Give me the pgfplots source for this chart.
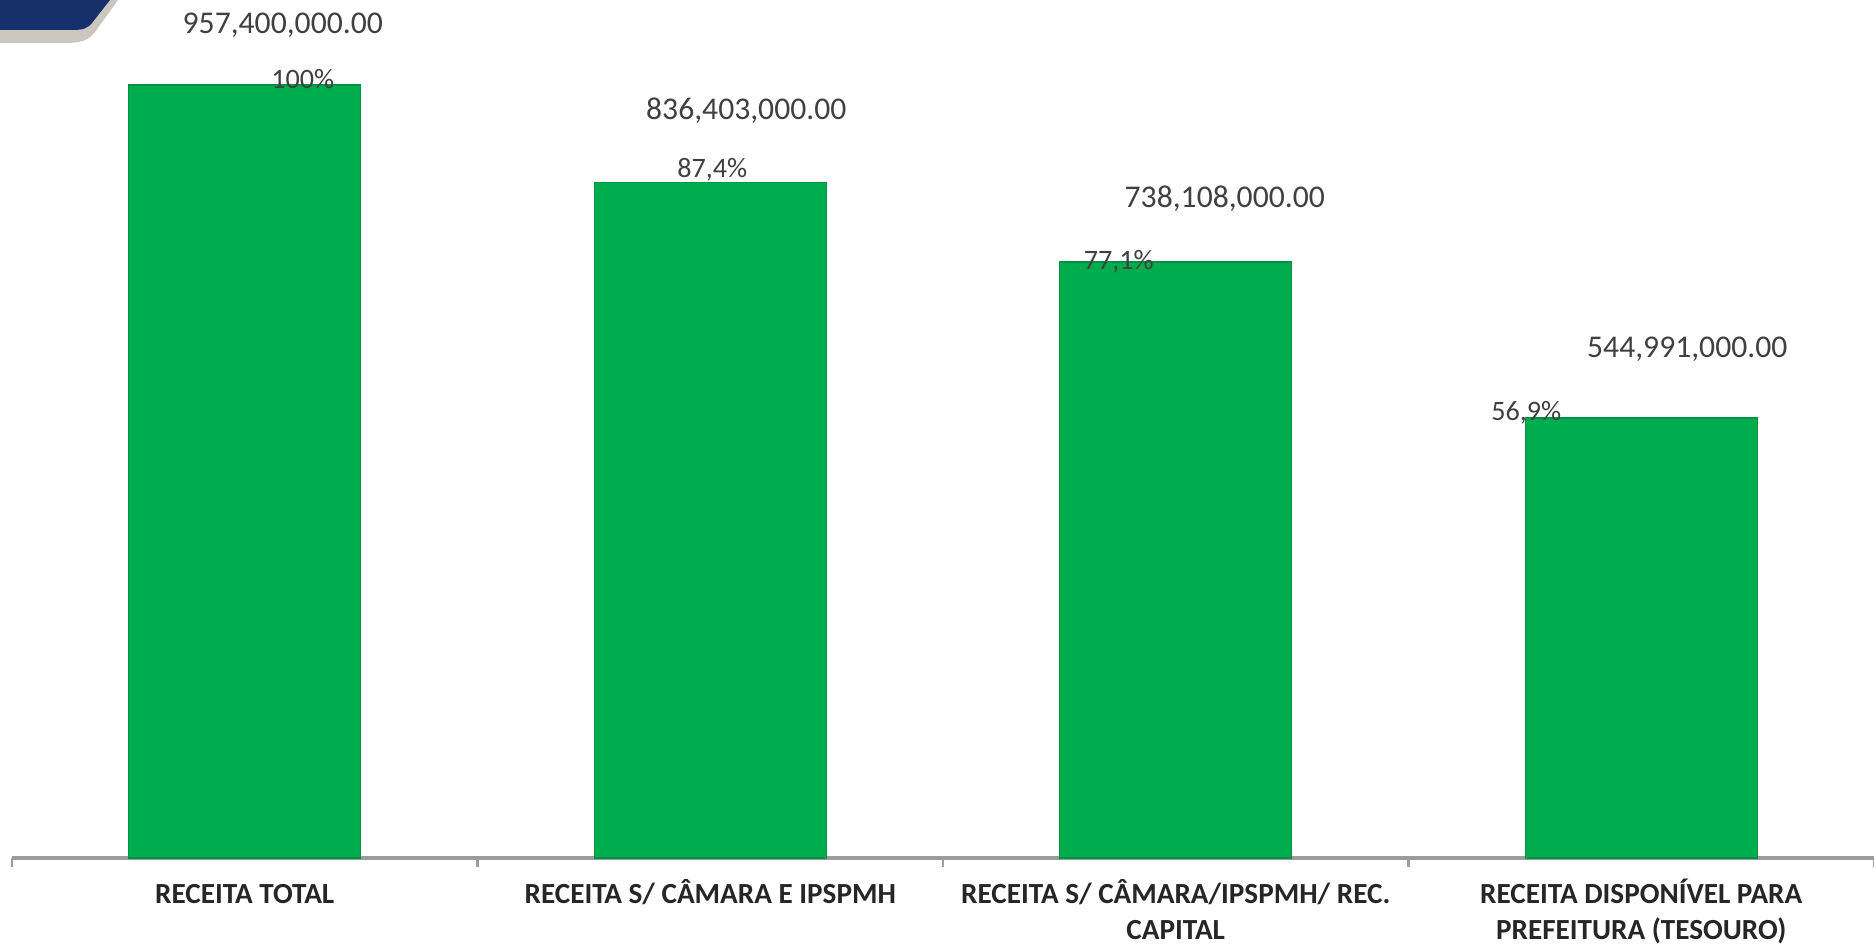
\documentclass[border=0pt]{standalone}
\usepackage{pgfplots}
\pgfplotsset{compat=1.18}
\usepackage{fontspec}
\setmainfont{Carlito}
\definecolor{barg}{HTML}{00AD4E}
\definecolor{navy}{HTML}{15306B}
\definecolor{frame}{HTML}{CBC7BF}
\definecolor{lbl}{HTML}{404040}
\definecolor{axisgrey}{HTML}{9C9C9C}

\begin{document}
\begin{tikzpicture}
\useasboundingbox (0,0) rectangle (18.74,9.44);
% corner badge
\fill[frame] (0,9.44) -- (1.18,9.44) -- (0.95,9.12)
  .. controls (0.88,9.03) and (0.80,9.01) .. (0.65,9.01) -- (0,9.01) -- cycle;
\fill[navy] (0,9.44) -- (1.10,9.44) -- (0.92,9.21)
  .. controls (0.87,9.15) and (0.82,9.14) .. (0.72,9.14) -- (0,9.14) -- cycle;
\begin{axis}[
  at={(0.12cm,0.86cm)}, anchor=south west,
  scale only axis, width=18.62cm, height=8.58cm,
  xmin=-0.5, xmax=3.5, ymin=0, ymax=1062.7,
  ybar, bar width=2.32cm, clip=false,
  axis x line*=bottom, axis y line=none,
  x axis line style={axisgrey, line width=1.4pt},
  xtick={0,1,2,3},
  xticklabels={{RECEITA TOTAL},{RECEITA S/ CÂMARA E IPSPMH},{RECEITA S/ CÂMARA/IPSPMH/ REC.\\CAPITAL},{RECEITA DISPONÍVEL PARA\\PREFEITURA (TESOURO)}},
  typeset ticklabels with strut,
  xticklabel style={font=\bfseries\fontsize{8.3}{10.2}\selectfont, align=center, text=black!85, yshift=-0.08cm},
  major tick length=0pt,
  minor xtick={-0.5,0.5,1.5,2.5,3.5},
  minor tick length=0.09cm, tick align=outside,
  minor x tick style={axisgrey, line width=0.8pt},
  ytick=\empty,
]
\addplot[fill=barg, draw=barg!85!black, line width=0.4pt]
  coordinates {(0,957.4) (1,836.403) (2,738.108) (3,544.991)};

\tikzset{vlab/.style={anchor=base, text=lbl, font=\fontsize{9}{10}\selectfont},
         plab/.style={anchor=base, text=lbl, font=\fontsize{8}{9}\selectfont}}
\node[vlab, xshift=0.38cm, yshift=0.52cm] at (axis cs:0,957.4) {957,400,000.00};
\node[vlab, xshift=0.36cm, yshift=0.63cm] at (axis cs:1,836.403) {836,403,000.00};
\node[vlab, xshift=0.49cm, yshift=0.55cm] at (axis cs:2,738.108) {738,108,000.00};
\node[vlab, xshift=0.46cm, yshift=0.60cm] at (axis cs:3,544.991) {544,991,000.00};
\node[plab, xshift=0.58cm, yshift=-0.03cm] at (axis cs:0,957.4) {100\%};
\node[plab, xshift=0.02cm, yshift=0.05cm] at (axis cs:1,836.403) {87,4\%};
\node[plab, xshift=-0.57cm, yshift=-0.07cm] at (axis cs:2,738.108) {77,1\%};
\node[plab, xshift=-1.15cm, yshift=-0.03cm] at (axis cs:3,544.991) {56,9\%};
\end{axis}
\end{tikzpicture}
\end{document}
